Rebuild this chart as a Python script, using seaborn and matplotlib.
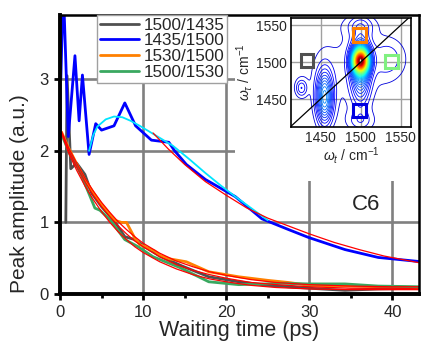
import numpy as np
import pandas as pd
import seaborn as sns
import matplotlib.pyplot as plt
from matplotlib.patches import Rectangle

# traces: waiting time (ps) and peak amplitude (a.u.)
pairs = ['1500/1435', '1435/1500', '1530/1500', '1500/1530']
colors = ['#505050', '#0000ff', '#ff8000', '#3aa860']

t_gray = [0.7, 0.85, 1.3, 2.0, 3.0, 3.8, 5.0, 6.6, 7.8, 9.0, 10.2, 12.0, 14.7, 17.9, 21.5, 25.0, 27.5, 30.0, 34.3, 38.3, 43.5]
a_gray = [1.0, 3.05, 1.75, 1.83, 1.67, 1.41, 1.22, 1.01, 0.80, 0.76, 0.66, 0.53, 0.39, 0.24, 0.17, 0.12, 0.10, 0.08, 0.05, 0.07, 0.08]

t_blue = [0.1, 0.4, 1.0, 1.8, 2.3, 2.7, 3.5, 4.3, 5.0, 6.5, 7.8, 9.1, 11.0, 13.1, 13.8, 15.2, 17.5, 21.1, 24.3, 27.5, 29.9, 34.3, 38.3, 43.5]
a_blue = [3.0, 4.3, 2.2, 3.33, 2.42, 3.06, 1.95, 2.38, 2.29, 2.35, 2.67, 2.35, 2.15, 2.12, 2.0, 1.81, 1.6, 1.36, 1.05, 0.9, 0.79, 0.62, 0.51, 0.45]

t_orange = [0.2, 1.0, 2.0, 3.0, 4.0, 5.0, 6.6, 7.4, 8.0, 9.0, 9.6, 11.4, 12.0, 13.2, 15.2, 17.9, 21.5, 25.0, 27.5, 30.0, 35.0, 43.5]
a_orange = [2.26, 2.05, 1.82, 1.60, 1.42, 1.25, 1.03, 1.0, 1.0, 0.78, 0.69, 0.60, 0.54, 0.49, 0.45, 0.31, 0.24, 0.19, 0.16, 0.12, 0.11, 0.09]

t_green = [0.3, 1.2, 2.0, 2.6, 3.6, 4.2, 4.8, 6.0, 7.8, 9.4, 11.2, 14.4, 17.9, 21.5, 24.7, 26.3, 29.9, 34.3, 38.3, 43.5]
a_green = [2.2, 1.95, 1.79, 1.65, 1.37, 1.2, 1.17, 1.04, 0.76, 0.66, 0.52, 0.37, 0.17, 0.13, 0.14, 0.15, 0.14, 0.14, 0.11, 0.10]

# fits
t_cyan = [3.5, 4.0, 4.5, 5.5, 6.5, 7.5, 8.5, 9.6, 11.6, 13.6, 15.6, 17.5, 19.3, 21.1, 23.0, 25.0]
a_cyan = [2.00, 2.22, 2.34, 2.44, 2.48, 2.47, 2.42, 2.35, 2.21, 2.07, 1.88, 1.69, 1.52, 1.36, 1.20, 1.03]

t_fit_blue = [11.2, 13, 15, 17.5, 20, 22.5, 25, 27.5, 30, 33, 36, 39, 43.5]
a_fit_blue = [2.25, 2.03, 1.81, 1.57, 1.38, 1.20, 1.06, 0.95, 0.84, 0.72, 0.62, 0.53, 0.43]

t_fit = [0.2, 1, 2, 3, 4, 5, 6, 7, 8, 9, 10, 12, 14, 16, 18, 20, 23, 26, 30, 35, 40, 43.5]
a_fit_1 = [2.27, 2.05, 1.83, 1.62, 1.44, 1.28, 1.14, 1.01, 0.90, 0.80, 0.71, 0.57, 0.46, 0.38, 0.31, 0.26, 0.20, 0.16, 0.13, 0.11, 0.10, 0.10]
a_fit_2 = [2.25, 2.01, 1.78, 1.57, 1.38, 1.22, 1.08, 0.95, 0.84, 0.74, 0.66, 0.52, 0.41, 0.33, 0.27, 0.22, 0.16, 0.13, 0.10, 0.08, 0.08, 0.07]
a_fit_3 = [2.24, 1.98, 1.73, 1.51, 1.32, 1.15, 1.00, 0.87, 0.76, 0.66, 0.58, 0.45, 0.35, 0.27, 0.21, 0.17, 0.12, 0.09, 0.07, 0.06, 0.06, 0.06]

# inset 2D spectrum: peak centres / widths / heights (cm-1)
pk_wt = [1500, 1500, 1455, 1426, 1535, 1500, 1500, 1480]
pk_wtau = [1502, 1492, 1452, 1465, 1505, 1550, 1420, 1490]
pk_st = [6.5, 8, 7, 5, 16, 14, 12, 45]
pk_stau = [11, 30, 24, 8, 20, 10, 10, 50]
pk_amp = [0.82, 0.19, 0.21, 0.07, 0.045, 0.045, 0.045, 0.03]

# boxes in the inset (wt, wtau)
box_wt = [1433, 1499, 1499, 1539]
box_wtau = [1502, 1434, 1537, 1501]
box_colors = ['#505050', '#0000e0', '#ff7f00', '#80f080']

sns.set_theme(style='ticks')
plt.rcParams['font.family'] = ['Liberation Sans', 'DejaVu Sans']
plt.rcParams['mathtext.fontset'] = 'custom'
plt.rcParams['mathtext.rm'] = 'Liberation Sans'
plt.rcParams['mathtext.it'] = 'Liberation Sans:italic'

fig = plt.figure(figsize=(4.21, 3.45), dpi=100)
ax = fig.add_axes([0.1425, 0.148, 0.8527, 0.8087])

series = [(t_gray, a_gray), (t_blue, a_blue), (t_orange, a_orange), (t_green, a_green)]
handles = []
for (tt, aa), lab, col in zip(series, pairs, colors):
    sns.lineplot(x=tt, y=aa, color=col, lw=2, estimator=None, errorbar=None, ax=ax)
    handles.append(ax.lines[-1])

sns.lineplot(x=t_cyan, y=a_cyan, color='#00e5ff', lw=1.3, estimator=None, errorbar=None, ax=ax)
for aa in [a_fit_1, a_fit_2, a_fit_3]:
    sns.lineplot(x=t_fit, y=aa, color='red', lw=0.9, estimator=None, errorbar=None, ax=ax)
sns.lineplot(x=t_fit_blue, y=a_fit_blue, color='red', lw=0.9, estimator=None, errorbar=None, ax=ax)

ax.set_xlim(0, 43.2)
ax.set_ylim(0, 3.9)
ax.set_xticks([0, 10, 20, 30, 40])
ax.set_xticks([5, 15, 25, 35], minor=True)
ax.set_yticks([0, 1, 2, 3])
ax.set_axisbelow(True)
ax.grid(True, which='major', color='#808080', lw=1.9)
ax.tick_params(which='major', direction='out', length=4, width=2, labelsize=12, pad=4, color='black')
ax.tick_params(which='minor', direction='out', length=3, width=2, color='black')
for side in ['left', 'bottom']:
    ax.spines[side].set_linewidth(2.8)
for side in ['top', 'right']:
    ax.spines[side].set_linewidth(1.8)
for sp in ax.spines.values():
    sp.set_color('black')
    sp.set_zorder(5)

ax.set_xlabel('Waiting time (ps)', fontsize=15.5, labelpad=0)
ax.set_ylabel('Peak amplitude (a.u.)', fontsize=15)
ax.yaxis.set_label_coords(-0.085, 0.36)
ax.text(36.8, 1.25, 'C6', fontsize=16, ha='center', va='center')

leg = ax.legend(handles, pairs, loc='upper left', bbox_to_anchor=(0.103, 1.0),
                borderaxespad=0, fontsize=12.3, frameon=True, fancybox=False,
                edgecolor='#a0a0a0', framealpha=1, handlelength=2.3,
                handletextpad=0.3, labelspacing=0.05, borderpad=0.15)
leg.get_frame().set_linewidth(1.0)

# white area behind the inset picture
ax.add_patch(Rectangle((0.558, 0.475), 0.437, 0.481, transform=fig.transFigure,
                       facecolor='white', edgecolor='none', zorder=1))

# inset
ins = fig.add_axes([0.6912, 0.6319, 0.285, 0.316])
wt = np.linspace(1405, 1570, 240)
wtau = np.linspace(1405, 1570, 240)
WT, WTAU = np.meshgrid(wt, wtau)
Z = np.zeros_like(WT)
for x0, y0, sx, sy, A in zip(pk_wt, pk_wtau, pk_st, pk_stau, pk_amp):
    Z += A * np.exp(-0.5 * ((WT - x0) / sx) ** 2 - 0.5 * ((WTAU - y0) / sy) ** 2)
ins.contour(WT, WTAU, Z, levels=np.linspace(0.025, 1.0, 52), cmap='jet',
            vmin=-0.06, vmax=1.0, linewidths=0.6)
ins.axline((1500, 1500), slope=1, color='black', lw=0.9)
for bx, by, bc in zip(box_wt, box_wtau, box_colors):
    ins.add_patch(Rectangle((bx - 8, by - 9), 16, 18, fill=False, edgecolor=bc, lw=2.2, zorder=4))
ins.set_xlim(1413, 1563)
ins.set_ylim(1412, 1560)
ins.set_xticks([1450, 1500, 1550])
ins.set_yticks([1450, 1500, 1550])
ins.set_axisbelow(True)
ins.grid(True, color='#a0a0a0', lw=1.0)
ins.tick_params(length=0, labelsize=10, pad=3)
for sp in ins.spines.values():
    sp.set_linewidth(1.2)
    sp.set_color('black')
ins.set_xlabel(r'$\omega_t$ / cm$^{-1}$', fontsize=10, labelpad=0)
ins.set_ylabel(r'$\omega_\tau$ / cm$^{-1}$', fontsize=10, labelpad=1)

fig.savefig('out.png', dpi=100)
